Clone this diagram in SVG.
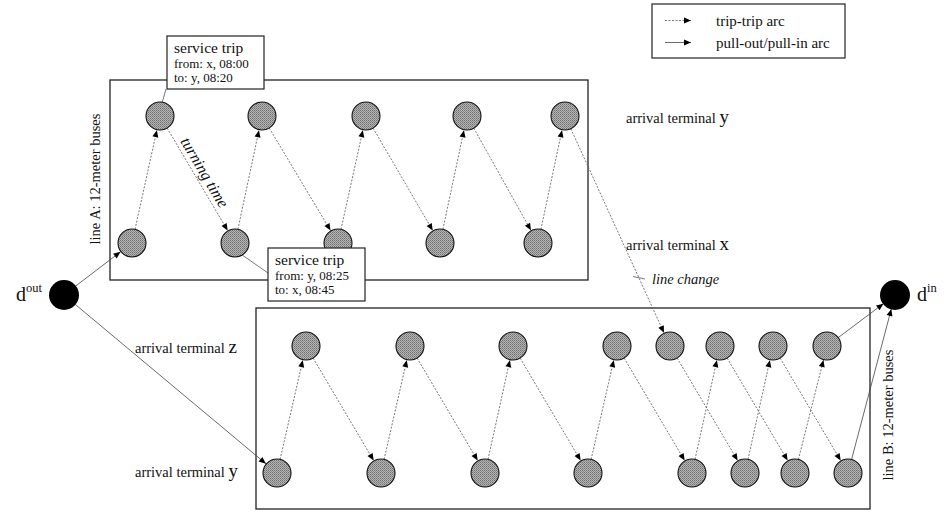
<svg xmlns="http://www.w3.org/2000/svg" width="952" height="513" viewBox="0 0 952 513">
<style>
text{font-family:"Liberation Serif","DejaVu Serif",serif;fill:#111}
.frame{fill:none;stroke:#222;stroke-width:1.3}
.box{fill:#fff;stroke:#222;stroke-width:1.2}
.n{fill:url(#dots);stroke:#111;stroke-width:1.1}
.d{fill:#000}
.tt{fill:none;stroke:#555;stroke-width:0.8;stroke-dasharray:2 1.5;marker-end:url(#ah)}
.po{fill:none;stroke:#444;stroke-width:0.8;marker-end:url(#ah)}
.lead{fill:none;stroke:#555;stroke-width:0.8}
.lab{font-size:14.5px}
.big{font-size:19px}
</style>
<defs>
<pattern id="dots" width="2" height="2" patternUnits="userSpaceOnUse">
<rect width="2" height="2" fill="#b4b4b4"/>
<rect width="1" height="1" fill="#707070"/>
<rect x="1" y="1" width="1" height="1" fill="#8a8a8a"/>
</pattern>
<marker id="ah" markerUnits="userSpaceOnUse" markerWidth="30" markerHeight="12" refX="14.5" refY="0" orient="auto" viewBox="-10 -6 30 12" overflow="visible">
<path d="M-7,-3 L0,0 L-7,3 z" fill="#000"/>
</marker>
<marker id="ahl" markerUnits="userSpaceOnUse" markerWidth="12" markerHeight="12" refX="0" refY="0" orient="auto" viewBox="-10 -6 12 12" overflow="visible">
<path d="M-7,-3 L0,0 L-7,3 z" fill="#000"/>
</marker>
</defs>

<g id="frames">
<rect id="lineA" class="frame" x="110" y="80" width="478" height="200"/>
<rect id="lineB" class="frame" x="256" y="308" width="614" height="201"/>
</g>

<g id="legend">
<rect class="box" x="652" y="4" width="193" height="54"/>
<line x1="665" y1="20.5" x2="691" y2="20.5" stroke="#555" stroke-width="0.8" stroke-dasharray="2 1.5" marker-end="url(#ahl)"/>
<line x1="665" y1="42.5" x2="691" y2="42.5" stroke="#444" stroke-width="0.8" marker-end="url(#ahl)"/>
<text x="716" y="26" font-size="15">trip-trip arc</text>
<text x="716" y="48" font-size="15">pull-out/pull-in arc</text>
</g>

<g id="connectors">
<!-- line A -->
<line class="tt" x1="132" y1="243" x2="160" y2="116"/>
<line class="tt" x1="160" y1="116" x2="235" y2="243"/>
<line class="tt" x1="235" y1="243" x2="262" y2="116"/>
<line class="tt" x1="262" y1="116" x2="338" y2="243"/>
<line class="tt" x1="338" y1="243" x2="366" y2="116"/>
<line class="tt" x1="366" y1="116" x2="440" y2="243"/>
<line class="tt" x1="440" y1="243" x2="467" y2="116"/>
<line class="tt" x1="467" y1="116" x2="538" y2="243"/>
<line class="tt" x1="538" y1="243" x2="565" y2="116"/>
<line class="tt" x1="565" y1="116" x2="670" y2="346"/>
<!-- line B -->
<line class="tt" x1="277" y1="473" x2="306" y2="346"/>
<line class="tt" x1="306" y1="346" x2="381" y2="473"/>
<line class="tt" x1="381" y1="473" x2="410" y2="346"/>
<line class="tt" x1="410" y1="346" x2="485" y2="473"/>
<line class="tt" x1="485" y1="473" x2="513" y2="346"/>
<line class="tt" x1="513" y1="346" x2="588" y2="473"/>
<line class="tt" x1="588" y1="473" x2="617" y2="346"/>
<line class="tt" x1="617" y1="346" x2="692" y2="473"/>
<line class="tt" x1="692" y1="473" x2="720" y2="346"/>
<line class="tt" x1="670" y1="346" x2="745" y2="473"/>
<line class="tt" x1="745" y1="473" x2="773" y2="346"/>
<line class="tt" x1="720" y1="346" x2="795" y2="473"/>
<line class="tt" x1="795" y1="473" x2="827" y2="346"/>
<line class="tt" x1="773" y1="346" x2="848" y2="473"/>
<!-- pull-out / pull-in -->
<line class="po" x1="64" y1="295" x2="132" y2="243"/>
<line class="po" x1="64" y1="295" x2="277" y2="473"/>
<line class="po" x1="827" y1="346" x2="895" y2="295"/>
<line class="po" x1="848" y1="473" x2="895" y2="295"/>
<!-- callout leaders -->
<line class="lead" x1="166" y1="89" x2="160" y2="110"/>
<line class="lead" x1="235" y1="250" x2="268" y2="273"/>
<line class="lead" x1="633" y1="276.5" x2="645" y2="279"/>
</g>

<g id="nodesA">
<circle id="a1" class="n" cx="132" cy="243" r="14"/>
<circle id="a2" class="n" cx="160" cy="116" r="14"/>
<circle id="a3" class="n" cx="235" cy="243" r="14"/>
<circle id="a4" class="n" cx="262" cy="116" r="14"/>
<circle id="a5" class="n" cx="338" cy="243" r="14"/>
<circle id="a6" class="n" cx="366" cy="116" r="14"/>
<circle id="a7" class="n" cx="440" cy="243" r="14"/>
<circle id="a8" class="n" cx="467" cy="116" r="14"/>
<circle id="a9" class="n" cx="538" cy="243" r="14"/>
<circle id="a10" class="n" cx="565" cy="116" r="14"/>
</g>

<g id="nodesB">
<circle id="b1" class="n" cx="306" cy="346" r="14"/>
<circle id="b2" class="n" cx="410" cy="346" r="14"/>
<circle id="b3" class="n" cx="513" cy="346" r="14"/>
<circle id="b4" class="n" cx="617" cy="346" r="14"/>
<circle id="b5" class="n" cx="670" cy="346" r="14"/>
<circle id="b6" class="n" cx="720" cy="346" r="14"/>
<circle id="b7" class="n" cx="773" cy="346" r="14"/>
<circle id="b8" class="n" cx="827" cy="346" r="14"/>
<circle id="b9" class="n" cx="277" cy="473" r="14"/>
<circle id="b10" class="n" cx="381" cy="473" r="14"/>
<circle id="b11" class="n" cx="485" cy="473" r="14"/>
<circle id="b12" class="n" cx="588" cy="473" r="14"/>
<circle id="b13" class="n" cx="692" cy="473" r="14"/>
<circle id="b14" class="n" cx="745" cy="473" r="14"/>
<circle id="b15" class="n" cx="795" cy="473" r="14"/>
<circle id="b16" class="n" cx="848" cy="473" r="14"/>
</g>

<g id="dout">
<circle class="d" cx="64" cy="295" r="15"/>
<text x="16" y="301" font-size="20">d<tspan font-size="12.5" dy="-9">out</tspan></text>
</g>
<g id="din">
<circle class="d" cx="895" cy="295" r="15"/>
<text x="917" y="301" font-size="20">d<tspan font-size="12.5" dy="-9">in</tspan></text>
</g>

<g id="callout1">
<rect class="box" x="167" y="36" width="97" height="53"/>
<text x="174" y="53" font-size="15.5">service trip</text>
<text x="174" y="68" font-size="13">from: x, 08:00</text>
<text x="174" y="82" font-size="13">to: y, 08:20</text>
</g>
<g id="callout2">
<rect class="box" x="268" y="248" width="97" height="53"/>
<text x="275" y="265" font-size="15.5">service trip</text>
<text x="275" y="280" font-size="13">from: y, 08:25</text>
<text x="275" y="294" font-size="13">to: x, 08:45</text>
</g>

<g id="labels">
<text class="lab" transform="translate(100,179) rotate(-90)" text-anchor="middle">line A: 12-meter buses</text>
<text class="lab" transform="translate(893,415) rotate(-90)" text-anchor="middle">line B: 12-meter buses</text>
<text font-size="16" font-style="italic" transform="translate(200,175) rotate(59.4)" text-anchor="middle">turning time</text>
<text class="lab" x="626" y="123">arrival terminal <tspan class="big">y</tspan></text>
<text class="lab" x="626" y="250">arrival terminal <tspan class="big">x</tspan></text>
<text class="lab" x="652" y="284" font-style="italic">line change</text>
<text class="lab" x="135" y="353">arrival terminal <tspan class="big">z</tspan></text>
<text class="lab" x="135" y="477">arrival terminal <tspan class="big">y</tspan></text>
</g>
</svg>
